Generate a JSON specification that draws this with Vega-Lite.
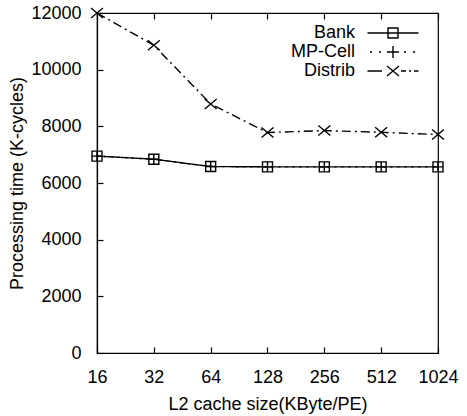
{
  "$schema": "https://vega.github.io/schema/vega-lite/v6.json",
  "autosize": {"type": "none"},
  "padding": {"left": 97, "top": 13, "right": 29, "bottom": 63},
  "width": 341,
  "height": 340,
  "background": "white",
  "config": {
    "font": "Liberation Sans",
    "view": {"stroke": "black", "strokeWidth": 1.2},
    "axis": {
      "domainColor": "black", "domainWidth": 1.2, "tickColor": "black", "tickWidth": 1.2,
      "labelColor": "black", "titleColor": "black", "labelFontSize": 18, "titleFontSize": 18,
      "titleFontWeight": "normal", "grid": false, "tickSize": -6,
      "labelFont": "Liberation Sans", "titleFont": "Liberation Sans"
    },
    "legend": {"labelFont": "Liberation Sans"}
  },
  "data": {"values": [
    {"size": 16, "time": 6950, "series": "Bank"},
    {"size": 32, "time": 6840, "series": "Bank"},
    {"size": 64, "time": 6580, "series": "Bank"},
    {"size": 128, "time": 6570, "series": "Bank"},
    {"size": 256, "time": 6570, "series": "Bank"},
    {"size": 512, "time": 6570, "series": "Bank"},
    {"size": 1024, "time": 6570, "series": "Bank"},
    {"size": 16, "time": 6950, "series": "MP-Cell"},
    {"size": 32, "time": 6840, "series": "MP-Cell"},
    {"size": 64, "time": 6580, "series": "MP-Cell"},
    {"size": 128, "time": 6570, "series": "MP-Cell"},
    {"size": 256, "time": 6570, "series": "MP-Cell"},
    {"size": 512, "time": 6570, "series": "MP-Cell"},
    {"size": 1024, "time": 6570, "series": "MP-Cell"},
    {"size": 16, "time": 12000, "series": "Distrib"},
    {"size": 32, "time": 10860, "series": "Distrib"},
    {"size": 64, "time": 8790, "series": "Distrib"},
    {"size": 128, "time": 7780, "series": "Distrib"},
    {"size": 256, "time": 7850, "series": "Distrib"},
    {"size": 512, "time": 7790, "series": "Distrib"},
    {"size": 1024, "time": 7710, "series": "Distrib"}
  ]},
  "layer": [
    {
      "mark": {"type": "line", "color": "black", "strokeWidth": 1.4},
      "encoding": {
        "x": {"field": "size", "type": "quantitative",
          "scale": {"type": "log", "base": 2, "domain": [16, 1024], "nice": false},
          "axis": {"values": [16, 32, 64, 128, 256, 512, 1024], "format": "d", "labelPadding": 21, "title": "L2 cache size(KByte/PE)", "titlePadding": 9, "labelFlush": false}},
        "y": {"field": "time", "type": "quantitative",
          "scale": {"domain": [0, 12000], "nice": false},
          "axis": {"values": [0, 2000, 4000, 6000, 8000, 10000, 12000], "format": "d", "labelPadding": 22, "title": "Processing time (K-cycles)", "titlePadding": 4}},
        "detail": {"field": "series"},
        "strokeDash": {"field": "series", "type": "nominal",
          "scale": {"domain": ["Bank", "MP-Cell", "Distrib"], "range": [[1, 0], [2, 5], [9, 4, 2, 4]]},
          "legend": null}
      }
    },
    {
      "mark": {"type": "point", "filled": false, "stroke": "black", "strokeWidth": 1.4, "size": 100, "opacity": 1},
      "encoding": {
        "x": {"field": "size", "type": "quantitative",
          "axis": {"orient": "top", "values": [16, 32, 64, 128, 256, 512, 1024], "labels": false, "title": null, "domain": false}},
        "y": {"field": "time", "type": "quantitative"},
        "shape": {"field": "series", "type": "nominal",
          "scale": {"domain": ["Bank", "MP-Cell", "Distrib"], "range": ["square", "M-1,0L1,0M0,-1L0,1", "M-1.2,-1L1.2,1M-1.2,1L1.2,-1"]},
          "legend": null}
      }
    },
    {
      "mark": {"type": "point", "filled": false, "stroke": "black", "opacity": 0, "size": 100},
      "encoding": {
        "x": {"field": "size", "type": "quantitative", "axis": null},
        "y": {"field": "time", "type": "quantitative"},
        "shape": {"field": "series", "type": "nominal",
          "scale": {"domain": ["Bank", "MP-Cell", "Distrib"], "range": [
            "M-5.1,0L5.1,0M-1,-1L1,-1L1,1L-1,1Z",
            "M-4.6,0L-4.2,0M-2.8,0L-2.4,0M-1.2,0L1.2,0M0,-1.2L0,1.2M2.2,0L2.6,0M4.0,0L4.4,0",
            "M-5.1,0L-2.2,0M-1.2,-1L1.2,1M-1.2,1L1.2,-1M1.6,0L2.6,0M3.2,0L3.6,0M4.2,0L5.1,0"
          ]},
          "legend": {"title": null, "orient": "none", "legendX": 287, "legendY": 11,
            "labelFontSize": 18, "labelColor": "black", "labelAlign": "right", "labelOffset": -47,
            "symbolOpacity": 1, "symbolStrokeColor": "black", "symbolFillColor": "transparent",
            "symbolStrokeWidth": 1.4, "symbolSize": 100, "rowPadding": 1, "padding": 0}
        }
      }
    }
  ],
  "resolve": {"scale": {"shape": "independent"}, "axis": {"x": "independent"}}
}
